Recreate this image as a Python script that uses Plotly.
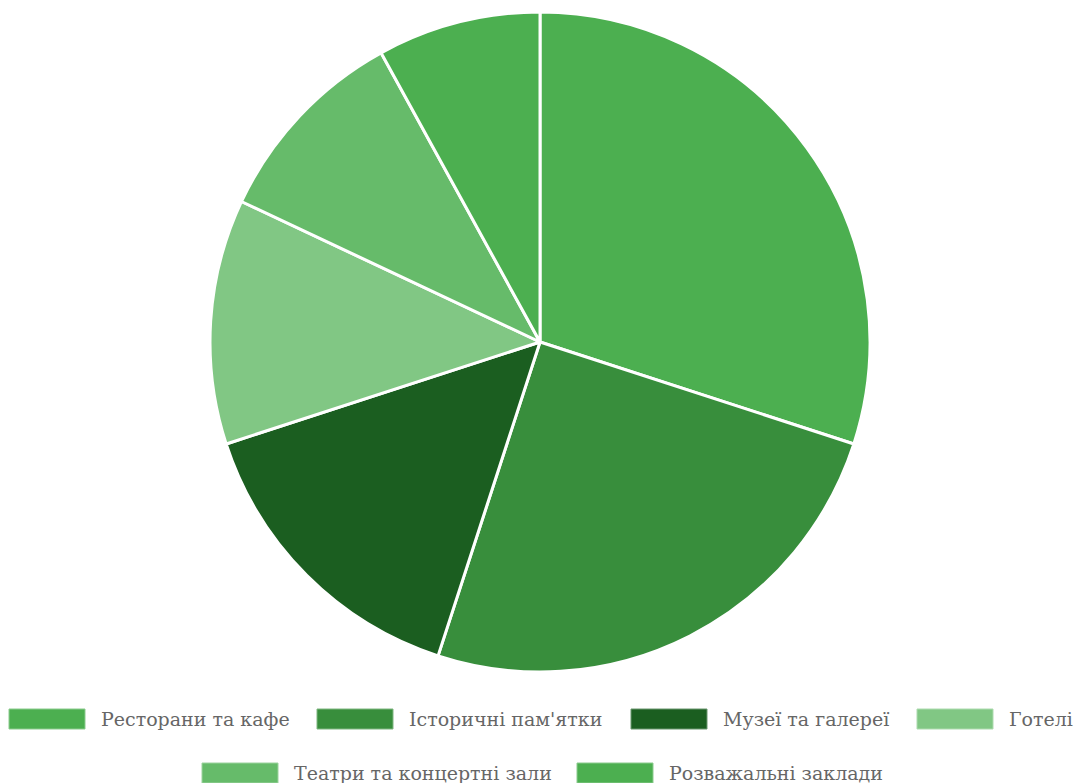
import plotly.graph_objects as go

# Share of tourist spending by venue type
categories = [
    "Ресторани та кафе",
    "Історичні пам'ятки",
    "Музеї та галереї",
    "Готелі",
    "Театри та концертні зали",
    "Розважальні заклади",
]
values = [30, 25, 15, 12, 10, 8]
colors = ["#4CAF50", "#388E3C", "#1B5E20", "#81C784", "#66BB6A", "#4CAF50"]

W, H = 1077, 783


def lighten(hex_color, amount=0.35):
    """Blend a hex colour towards white."""
    h = hex_color.lstrip("#")
    r, g, b = (int(h[k:k + 2], 16) for k in (0, 2, 4))
    mix = lambda c: int(round(c + (255 - c) * amount))
    return f"rgb({mix(r)},{mix(g)},{mix(b)})"


fig = go.Figure(
    go.Pie(
        labels=categories,
        values=values,
        sort=False,
        direction="clockwise",
        rotation=0,
        textinfo="none",
        hoverinfo="label+value",
        marker=dict(colors=colors, line=dict(color="#ffffff", width=3)),
        domain=dict(x=[0.0028, 1.0], y=[1 - 672 / H, 1 - 12 / H]),
        showlegend=False,
    )
)

# Custom legend: wide colour boxes followed by labels, in two centred rows
legend_rows = [[0, 1, 2, 3], [4, 5]]
row_y = [719, 773]
box_x = {0: 9, 1: 317, 2: 631, 3: 917, 4: 202, 5: 577}
box_w, box_h, gap = 76, 20, 14

shapes = []
annotations = []
for r, row in enumerate(legend_rows):
    yc = row_y[r]
    for i in row:
        x0 = box_x[i]
        shapes.append(
            dict(
                type="rect",
                xref="paper",
                yref="paper",
                x0=x0 / W,
                x1=(x0 + box_w) / W,
                y0=1 - (yc - box_h / 2) / H,
                y1=1 - (yc + box_h / 2) / H,
                fillcolor=colors[i],
                line=dict(color=lighten(colors[i]), width=1),
                layer="above",
            )
        )
        annotations.append(
            dict(
                text=categories[i],
                xref="paper",
                yref="paper",
                x=(x0 + box_w + gap) / W,
                y=1 - yc / H,
                xanchor="left",
                yanchor="middle",
                showarrow=False,
                font=dict(family="DejaVu Serif", size=19, color="#666666"),
            )
        )

fig.update_layout(
    width=W,
    height=H,
    margin=dict(l=0, r=0, t=0, b=0),
    paper_bgcolor="#ffffff",
    plot_bgcolor="#ffffff",
    shapes=shapes,
    annotations=annotations,
)

fig.write_html("out.html")
